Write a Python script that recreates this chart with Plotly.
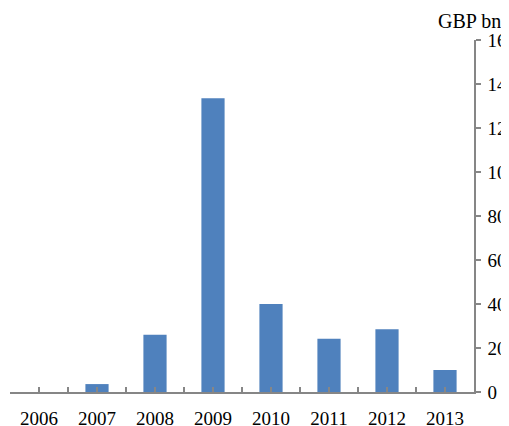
import plotly.graph_objects as go

years = [2006, 2007, 2008, 2009, 2010, 2011, 2012, 2013]
values = [0, 3.6, 26, 133.5, 40, 24.2, 28.5, 10]
y_ticks = [0, 20, 40, 60, 80, 100, 120, 140, 160]

axis_grey = 'rgb(134, 134, 134)'
serif = dict(family='Liberation Serif, Times New Roman, serif', size=19, color='black')

fig = go.Figure(go.Bar(x=years, y=values, marker=dict(color='#4F81BD', line=dict(width=0)),
                       width=0.4))

# the page body adds an 8px margin, so the figure is 8px smaller than the window
fig.update_layout(
    width=501, height=418,
    margin=dict(l=2, r=35, t=32, b=34, autoexpand=False),
    plot_bgcolor='white', paper_bgcolor='white',
    showlegend=False,
    xaxis=dict(range=[2005.5, 2013.5], tickmode='array', tickvals=years,
               ticktext=[str(y) for y in years],
               showline=True, linecolor=axis_grey, linewidth=1.5,
               ticks='inside', ticklen=5, tickcolor=axis_grey, tickwidth=1.5,
               minor=dict(tickmode='array', tickvals=[y + 0.5 for y in [2005] + years],
                          ticks='inside', ticklen=5, tickcolor=axis_grey, tickwidth=1.5),
               showgrid=False, zeroline=False, tickfont=serif, ticklabelstandoff=8,
               automargin=False),
    yaxis=dict(side='right', range=[0, 160], tickmode='array', tickvals=y_ticks,
               showline=True, linecolor=axis_grey, linewidth=1.5,
               ticks='outside', ticklen=5, tickcolor=axis_grey, tickwidth=1.5,
               showgrid=False, zeroline=False, tickfont=serif, ticklabelstandoff=3,
               automargin=False),
    annotations=[dict(text='GBP bn', xref='paper', yref='paper', x=0.991, y=1.0,
                      xanchor='center', yanchor='bottom', yshift=6, showarrow=False,
                      font=dict(serif, size=20))],
)

fig.write_html('out.html')
